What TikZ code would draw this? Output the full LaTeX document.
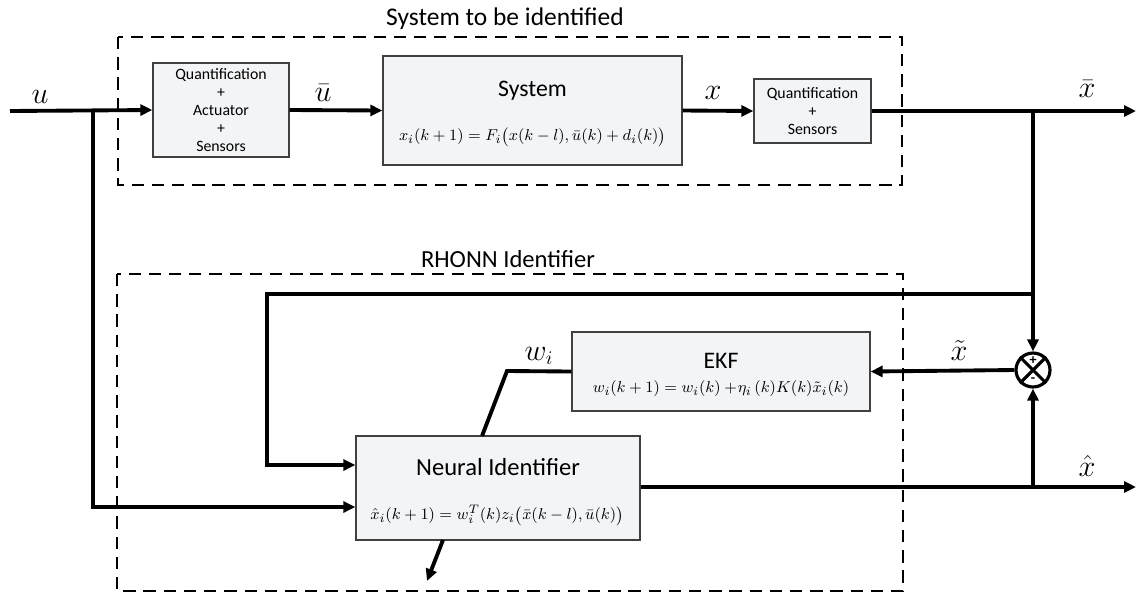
\documentclass[tikz,border=0pt]{standalone}
\usepackage{amsmath}
\usepackage{fontspec}
\setmainfont{Carlito}
\usetikzlibrary{arrows.meta}

\definecolor{boxfill}{HTML}{F3F4F6}
\definecolor{boxline}{HTML}{404040}

\tikzset{
	blk/.style={draw=boxline, fill=boxfill, line width=0.8pt, inner sep=0pt},
	sig/.style={line width=2.2pt},
	sigarr/.style={sig, -{Triangle[length=0.24cm, width=0.22cm]}},
	grp/.style={line width=1.6pt, dash pattern=on 7pt off 4.5pt},
	lbl/.style={font=\fontsize{16}{18}\selectfont},
	fml/.style={font=\fontsize{9.3}{11}\selectfont},
	ttl/.style={font=\fontsize{14}{16}\selectfont},
}

\begin{document}
\begin{tikzpicture}[x=0.02cm, y=-0.02cm]
	\useasboundingbox (0,0) rectangle (1137,593);

	% groups
	\draw[grp] (118,37) rectangle (902,185);
	\draw[grp] (117,274) rectangle (903,591);
	\node[ttl, font=\fontsize{14.5}{16}\selectfont] (systitle) at (505,19) {System to be identified};
	\node[ttl] (rhtitle) at (508,259) {RHONN Identifier};

	% blocks
	\node[blk, minimum width=2.72cm, minimum height=1.88cm] (qa) at (221,110) {};
	\node[align=center, font=\fontsize{9}{10.2}\selectfont] (qatxt) at (qa) {Quantification\\+\\Actuator\\+\\Sensors};
	\node[blk, minimum width=5.98cm, minimum height=2.18cm] (sys) at (532.5,110.5) {};
	\node[font=\fontsize{13.5}{15}\selectfont] (systxt) at (532.5,91) {System};
	\node[fml] (sysfml) at (532.5,137) {$x_i(k+1)=F_i\bigl(x(k-l),\bar{u}(k)+d_i(k)\bigr)$};
	\node[blk, minimum width=2.34cm, minimum height=1.28cm] (qs) at (812.5,111) {};
	\node[align=center, font=\fontsize{9}{10.2}\selectfont] (qstxt) at (qs) {Quantification\\+\\Sensors};

	\node[blk, minimum width=5.96cm, minimum height=1.58cm] (ekf) at (721,371.5) {};
	\node[font=\fontsize{13.5}{15}\selectfont] (ekftxt) at (721,361) {EKF};
	\node[fml] (ekffml) at (721,389) {$w_i(k+1)=w_i(k)+\!\eta_i\,(k)K(k)\tilde{x}_i(k)$};
	\node[blk, minimum width=5.68cm, minimum height=2.08cm] (ni) at (498,488) {};
	\node[font=\fontsize{14}{16}\selectfont] (nitxt) at (498,467) {Neural Identifier};
	\node[fml] (nifml) at (497,515) {$\hat{x}_i(k+1)=w_i^T(k)z_i\bigl(\bar{x}(k-l),\bar{u}(k)\bigr)$};

	\node[circle, draw, line width=1.8pt, minimum size=0.68cm, inner sep=0pt] (sum) at (1033,370) {};
	\draw[line width=1.8pt] (sum.north west) -- (sum.south east) (sum.north east) -- (sum.south west);
	\node[font=\bfseries\fontsize{8}{9}\selectfont, inner sep=0pt] (plus) at (1033,361) {+};
	\node[font=\bfseries\fontsize{8}{9}\selectfont, inner sep=0pt] (minus) at (1033,380) {-};

	% points
	\coordinate (uin) at (10,111);
	\coordinate (ub) at (93,111);
	\coordinate (xbb) at (1033,111);
	\coordinate (xbout) at (1136,111);
	\coordinate (fb) at (1033,294);
	\coordinate (fbc) at (267,294);
	\coordinate (xhb) at (1033,487);
	\coordinate (xhout) at (1136,487);
	\coordinate (wk) at (507,371);
	\coordinate (wn) at (482,436);
	\coordinate (nio) at (443,540);
	\coordinate (nia) at (427,581);

	% signals
	\draw[sigarr] (uin) -- (qa.west);
	\draw[sigarr] (qa.east) -- (sys.west);
	\draw[sigarr] (sys.east) -- (qs.west);
	\draw[sigarr] (qs.east) -- (xbout);
	\draw[sigarr] (ub) |- ([yshift=-0.38cm]ni.west);
	\draw[sigarr] (fb) -- (fbc) |- ([yshift=0.46cm]ni.west);
	\draw[sigarr] (xbb) -- (sum.north);
	\draw[sigarr] (sum.west) -- (ekf.east);
	\draw[sig] (ekf.west) -- (wk) -- (wn);
	\draw[sigarr] (ni.east |- xhout) -- (xhout);
	\draw[sigarr] (xhb) -- (sum.south);
	\draw[sigarr] (nio) -- (nia);

	% labels
	\node[lbl] (ulbl) at (40,97) {$u$};
	\node[lbl] (ublbl) at (323,93) {$\bar{u}$};
	\node[lbl] (xlbl) at (713,93) {$x$};
	\node[lbl] (xblbl) at (1087,89) {$\bar{x}$};
	\node[lbl] (xtlbl) at (959,351) {$\tilde{x}$};
	\node[lbl] (wlbl) at (539,356) {$w_i$};
	\node[lbl] (xhlbl) at (1087,466) {$\hat{x}$};
\end{tikzpicture}
\end{document}
